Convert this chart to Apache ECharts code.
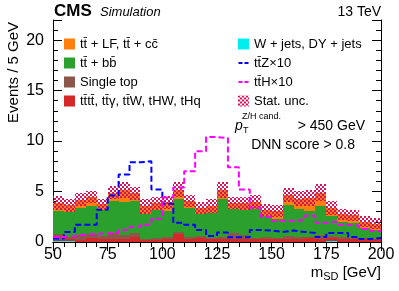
<!DOCTYPE html>
<html><head><meta charset="utf-8">
<script src="https://cdn.jsdelivr.net/npm/echarts@6/dist/echarts.min.js"></script>
<style>html,body{margin:0;padding:0;background:#fff}#c{width:399px;height:291px}</style>
</head><body><div id="c"></div>
<script>
// ---- data ----
const binLow = [50,55,60,65,70,75,80,85,90,95,100,105,110,115,120,125,130,135,140,145,150,155,160,165,170,175,180,185,190,195];
const binWidth = 5;
const wJets   = [0.1,0.1,0,0,0,0,0,0,0,0,0,0,0,0,0,0,0,0,0,0,0,0,0,0,0,0.08,0,0,0,0];
const ttttEtc = [0.1,0.15,0.2,0.4,0.3,0.3,0.3,0.5,0.2,0.15,0.3,0.8,0.3,0.4,0.25,0.3,0.3,0.3,0.25,0.3,0.3,0.3,0.3,0.35,0.3,0.35,0.3,0.3,0.3,0.25];
const singleTop = [0.6,0.22,0.5,0.4,0.3,0.63,0.4,0.43,0.07,0.22,0.17,0.23,0.17,0.2,0.12,0.23,0.63,0.4,0.12,0.23,0.07,0.3,0.17,0.12,0.4,0.17,0.17,0.07,0.07,0.08];
const ttbb    = [2.23,2.46,2.67,2.73,2.6,3.17,3.23,3.1,2.53,2.83,2.56,3.24,2.9,2.2,2.5,3.74,2.34,2.5,2.93,2.0,1.9,3.1,2.8,2.56,2.83,2.0,1.56,1.56,1.0,0.87];
const ttLF    = [0.8,0.7,0.83,0.95,0.53,0.8,1.22,0.8,0.73,0.63,0.9,0.93,0.73,0.6,0.7,0.9,0.6,0.63,0.7,0.67,0.81,0.93,1.03,1.3,1.37,0.77,0.7,0.72,0.66,0.62];
const statUnc = [0.7,0.63,0.67,0.62,0.53,0.63,0.78,0.63,0.73,0.63,0.67,0.73,0.6,0.6,0.7,0.8,0.6,0.63,0.7,0.6,0.62,0.7,0.77,0.8,0.8,0.67,0.53,0.55,0.5,0.52];
const ttZx10  = [0.35,1.0,1.7,1.7,3.2,4.6,6.7,7.9,8.0,5.2,3.8,1.9,1.7,1.2,0.6,0.93,0.47,0.47,1.2,1.13,1.0,1.13,1.0,0.9,0.5,0.9,0.9,0.5,0.3,0.4];
const ttHx10  = [0.5,0.6,0.75,0.8,0.85,0.95,1.2,1.5,1.7,2.3,4.4,5.4,7.0,9.0,10.4,10.3,7.4,5.2,3.4,2.5,2.1,2.1,2.2,2.6,1.9,2.0,1.7,1.6,1.3,1.1];
const xTickLabels = [50,75,100,125,150,175,200];
const yTickLabels = [0,5,10,15,20];

// ---- style ----
const FONT = 'Liberation Sans, Arial, Helvetica, sans-serif';
const stackDefs = [
  {name:'W + jets, DY + jets', vals:wJets, color:'#00eeee'},
  {name:'tt\u0304tt\u0304, tt\u0304\u03b3, tt\u0304W, tHW, tHq', vals:ttttEtc, color:'#d62728'},
  {name:'Single top', vals:singleTop, color:'#8c564b'},
  {name:'tt\u0304 + bb\u0304', vals:ttbb, color:'#2ca02c'},
  {name:'tt\u0304 + LF, tt\u0304 + cc\u0304', vals:ttLF, color:'#ff7f0e'}
];

// checkered hatch pattern
const pc = document.createElement('canvas');
pc.width = 4; pc.height = 4;
const pctx = pc.getContext('2d');
pctx.fillStyle = '#d9145e';
for (let y=0;y<4;y++) for (let x=0;x<4;x++) {
  if (((x>>1)+(y>>1))%2===0) pctx.fillRect(x,y,1,1);
}
const hatch = {image: pc, repeat: 'repeat'};

function rectRender(params, api) {
  const p0 = api.coord([api.value(0), api.value(3)]);
  const p1 = api.coord([api.value(1), api.value(2)]);
  const x0 = Math.round(p0[0]), x1 = Math.round(p1[0]);
  const y0 = Math.round(p0[1]), y1 = Math.round(p1[1]);
  return {type:'rect', shape:{x:x0, y:y0, width:x1-x0, height:y1-y0}, style:{fill: api.visual('color')}};
}

const series = [];
const cum = binLow.map(()=>0);
stackDefs.forEach(d => {
  const data = binLow.map((x,i)=>{ const b = cum[i]; cum[i] += d.vals[i]; return [x, x+binWidth, b, cum[i]]; });
  series.push({type:'custom', name:d.name, itemStyle:{color:d.color}, renderItem:rectRender,
    encode:{x:[0,1], y:[2,3]}, data, z:2});
});
series.push({type:'custom', name:'Stat. unc.', itemStyle:{color:hatch}, renderItem:rectRender,
  encode:{x:[0,1], y:[2,3]}, z:3,
  data: binLow.map((x,i)=>[x, x+binWidth, cum[i]-statUnc[i], cum[i]+statUnc[i]])});
function stepData(vals){ const d = binLow.map((x,i)=>[x, vals[i]]); d.push([binLow[binLow.length-1]+binWidth, vals[vals.length-1]]); return d; }
const ttZName = 'tt\u0304Z\u00d710', ttHName = 'tt\u0304H\u00d710';
series.push({type:'line', name:ttZName, step:'end', symbol:'none', z:4, data:stepData(ttZx10),
  lineStyle:{color:'#0000ff', width:2, type:[6,3]}, itemStyle:{color:'#0000ff'}});
series.push({type:'line', name:ttHName, step:'end', symbol:'none', z:4, data:stepData(ttHx10),
  lineStyle:{color:'#ff00ff', width:2, type:[6,3]}, itemStyle:{color:'#ff00ff'}});

const dashIcon = 'path://M0,0h0.01v0.01h-0.01z M0,4.5h4v2h-4z M6,4.5h4v2h-4z M0,11h0.01v0.01h-0.01z';
const axisLine = {show:true, lineStyle:{color:'#000', width:1}};
function mkTick(){ return {show:true, inside:true, length:9, lineStyle:{color:'#000'}}; }
function mkMinor(){ return {show:true, splitNumber:5, length:5, lineStyle:{color:'#000'}}; }
const option = {
  animation:false,
  backgroundColor:'#fff',
  grid:{left:53, right:18, top:20, bottom:49},
  xAxis:[
    {type:'value', min:50, max:200, interval:25, position:'bottom', axisLine, axisTick:mkTick(), minorTick:mkMinor(),
     axisLabel:{show:true, fontSize:16, fontFamily:FONT, color:'#000', margin:5,
       formatter:v=> xTickLabels.indexOf(v)>=0 ? String(v) : ''},
     splitLine:{show:false}},
    {type:'value', min:50, max:200, interval:25, position:'top', axisLine, axisTick:mkTick(), minorTick:mkMinor(),
     axisLabel:{show:false}, splitLine:{show:false}}
  ],
  yAxis:[
    {type:'value', min:0, max:22, interval:5, position:'left', axisLine, axisTick:mkTick(), minorTick:mkMinor(),
     axisLabel:{show:true, fontSize:16, fontFamily:FONT, color:'#000', margin:9,
       formatter:v=> yTickLabels.indexOf(v)>=0 ? String(v) : ''},
     splitLine:{show:false}},
    {type:'value', min:0, max:22, interval:5, position:'right', axisLine, axisTick:mkTick(), minorTick:mkMinor(),
     axisLabel:{show:false}, splitLine:{show:false}}
  ],
  legend:[
    {left:64, top:37, padding:0, orient:'vertical', itemGap:5, itemWidth:11, itemHeight:11, icon:'rect',
     textStyle:{fontSize:13, fontFamily:FONT, color:'#000', lineHeight:14},
     data:[stackDefs[4].name, stackDefs[3].name, stackDefs[2].name, stackDefs[1].name]},
    {left:238, top:37, padding:0, orient:'vertical', itemGap:5, itemWidth:11, itemHeight:11,
     textStyle:{fontSize:13, fontFamily:FONT, color:'#000', lineHeight:14},
     data:[{name:stackDefs[0].name, icon:'rect'}, {name:ttZName, icon:dashIcon}, {name:ttHName, icon:dashIcon}, {name:'Stat. unc.', icon:'rect'}]}
  ],
  graphic:[
    {type:'text', left:54, top:3, style:{text:'CMS', font:'bold 17px '+FONT, fill:'#000'}},
    {type:'text', left:100, top:6, style:{text:'Simulation', font:'italic 13px '+FONT, fill:'#000'}},
    {type:'text', right:18, top:5, style:{text:'13 TeV', font:'14px '+FONT, fill:'#000'}},
    {type:'text', x:14, y:22, rotation:Math.PI/2, style:{text:'Events / 5 GeV', font:'15px '+FONT, fill:'#000', align:'right', verticalAlign:'middle'}},
    {type:'text', x:381, y:273, style:{text:'{m|m}{s|SD}{m| [GeV]}', align:'right', verticalAlign:'middle',
      rich:{m:{font:'15px '+FONT, fill:'#000'}, s:{font:'11px '+FONT, fill:'#000', padding:[7,0,0,0]}}}},
    {type:'text', x:235, y:126, style:{text:'p', font:'italic 14px '+FONT, fill:'#000', verticalAlign:'middle'}},
    {type:'text', x:243, y:131, style:{text:'T', font:'9px '+FONT, fill:'#000', verticalAlign:'middle'}},
    {type:'text', x:242, y:117, style:{text:'Z/H cand.', font:'9px '+FONT, fill:'#000', verticalAlign:'middle'}},
    {type:'text', x:365, y:126, style:{text:'> 450 GeV', font:'14px '+FONT, fill:'#000', align:'right', verticalAlign:'middle'}},
    {type:'text', x:355, y:145, style:{text:'DNN score > 0.8', font:'14px '+FONT, fill:'#000', align:'right', verticalAlign:'middle'}}
  ],
  series
};
const chart = echarts.init(document.getElementById('c'), null, {renderer:'canvas'});
chart.setOption(option);
</script></body></html>
